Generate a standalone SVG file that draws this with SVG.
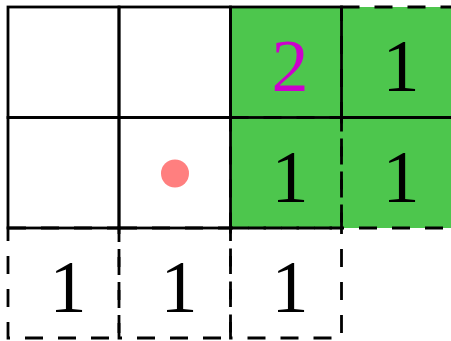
<svg xmlns="http://www.w3.org/2000/svg" width="451" height="341" viewBox="0 0 451 341">
<style>
.solid{fill:none;stroke:#000;stroke-width:2.8}
.dash{fill:none;stroke:#000;stroke-width:2.8;stroke-dasharray:18 15}
.num{font-family:"Liberation Serif","Times New Roman",serif;font-size:74px;text-anchor:middle;fill:#000}
.two{fill:#CC00CC}
</style>
<rect x="0" y="0" width="451" height="341" fill="#fff"/>
<rect x="230.5" y="7" width="221" height="221" fill="#4DC64D"/>
<g id="cell-2-0"><rect class="dash" x="8" y="228" width="111" height="110"/><text class="num" x="68" y="312">1</text></g>
<g id="cell-2-1"><rect class="dash" x="119" y="228" width="111.5" height="110"/><text class="num" x="179" y="312">1</text></g>
<g id="cell-2-2"><rect class="dash" x="230.5" y="228" width="111" height="110"/><text class="num" x="290" y="312">1</text></g>
<g id="cell-1-2"><rect class="dash" x="230.5" y="117.5" width="111" height="110.5"/><text class="num" x="290" y="201.5">1</text></g>
<g id="cell-1-3"><rect class="dash" x="341.5" y="117.5" width="111" height="110.5"/><text class="num" x="401" y="201.5">1</text></g>
<g id="cell-0-3"><rect class="dash" x="341.5" y="7" width="111" height="110.5"/><text class="num" x="401" y="90.5">1</text></g>
<g id="cell-0-0"><rect class="solid" x="8" y="7" width="111" height="110.5"/></g>
<g id="cell-0-1"><rect class="solid" x="119" y="7" width="111.5" height="110.5"/></g>
<g id="cell-1-0"><rect class="solid" x="8" y="117.5" width="111" height="110.5"/></g>
<g id="cell-1-1"><rect class="solid" x="119" y="117.5" width="111.5" height="110.5"/><circle cx="175" cy="173.5" r="14" fill="#FF7F7F"/></g>
<g id="cell-0-2"><rect class="solid" x="230.5" y="7" width="111" height="110.5"/><text class="num two" x="290" y="90.5">2</text></g>
</svg>
